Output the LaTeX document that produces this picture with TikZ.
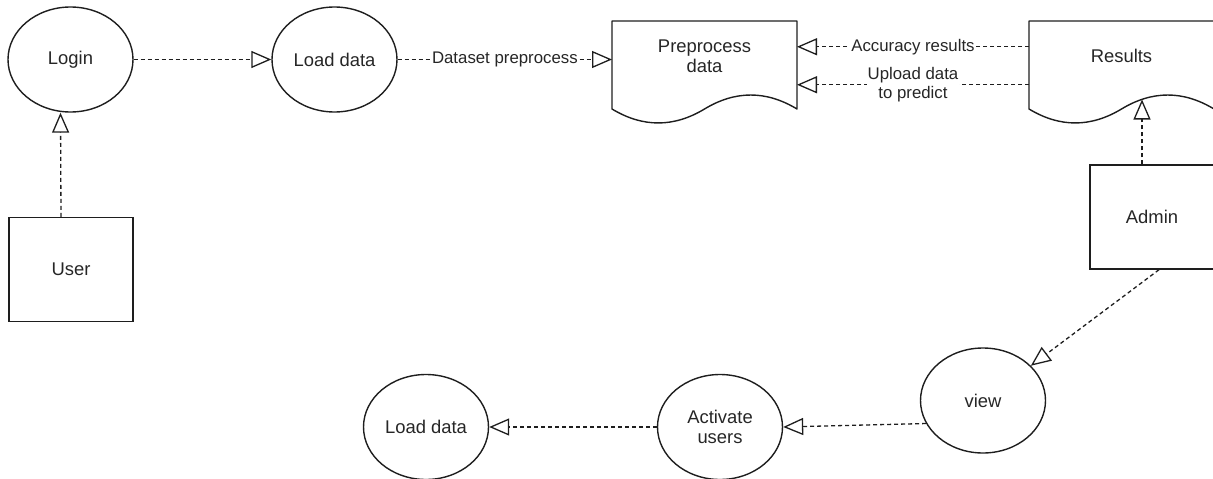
\documentclass[tikz,border=0pt]{standalone}
\usepackage{fontspec}
\setmainfont{Liberation Sans}
\usetikzlibrary{arrows.meta,shapes.geometric,calc}
\definecolor{ink}{HTML}{1E1E1E}
\definecolor{txt}{HTML}{262626}
\begin{document}
\begin{tikzpicture}[x=1pt,y=-1pt,
  vtx/.style={font=\fontsize{18.4}{20}\selectfont, text=txt, align=center, inner sep=0pt},
  ell/.style={vtx, ellipse, draw=ink, line width=1.4pt, minimum width=125pt, minimum height=105pt},
  box/.style={vtx, rectangle, draw=ink, line width=1.4pt, minimum width=124pt, minimum height=104pt},
  docb/.style={rectangle, inner sep=0pt, outer sep=0pt, minimum width=185pt, minimum height=103.5pt},
  docline/.style={draw=ink, line width=1.4pt, line join=round},
  flow/.style={draw=ink, line width=1.3pt, dash pattern=on 4pt off 3pt,
    -{Triangle[length=20pt, width=17pt, fill=white]}},
  lbl/.style={font=\fontsize{16.8}{19}\selectfont, text=txt, fill=white, inner sep=1pt, align=center}
]
\useasboundingbox (0,0) rectangle (1213,479);

% ellipses and boxes
\node[ell] (login) at (70.5,59.5) {Login};
\node[ell] (load1) at (334.5,59.5) {Load data};
\node[box] (user) at (71,269.5) {User};
\node[box] (admin) at (1152,217) {Admin};
\node[ell] (view) at (983,400.5) {view};
\node[ell] (act) at (720,427) {Activate\\users};
\node[ell] (load2) at (426,427) {Load data};

% documents
\node[docb] (pre) at (704.5,72.75) {};
\node[docb] (res) at (1121.5,72.75) {};
\draw[docline] (612,109) -- (612,21) -- (797,21) -- (797,109)
  .. controls (766.17,90.35) and (735.33,90.35) .. (704.5,109)
  .. controls (673.67,127.61) and (642.83,127.61) .. (612,109) -- cycle;
\draw[docline] (1029,109) -- (1029,21) -- (1214,21) -- (1214,109)
  .. controls (1183.17,90.35) and (1152.33,90.35) .. (1121.5,109)
  .. controls (1090.67,127.61) and (1059.83,127.61) .. (1029,109) -- cycle;
\node[vtx] (pretxt) at (704.5,56) {Preprocess\\data};
\node[vtx] (restxt) at (1121.5,56) {Results};
\coordinate (reswave) at (1142,99.5);

% connectors
\draw[flow] (login) -- (load1);
\draw[flow] (load1.east) -- node[lbl] {Dataset preprocess} (load1.east -| pre.west);
\draw[flow] ([yshift=26pt]res.west) -- node[lbl] {Accuracy results} ([yshift=26pt]pre.east);
\draw[flow] ([yshift=-12pt]res.west) -- node[lbl] {Upload data\\to predict} ([yshift=-12pt]pre.east);
\draw[flow] ([xshift=-10pt]admin.north) -- (reswave);
\draw[flow] ([xshift=-10pt]user.north) -- ([xshift=-10pt]login.south);
\draw[flow] ([xshift=7pt]admin.south) -- (view.36);
\draw[flow] (view.202) -- (act.east);
\draw[flow] (act.west) -- (load2.east);
\end{tikzpicture}
\end{document}
